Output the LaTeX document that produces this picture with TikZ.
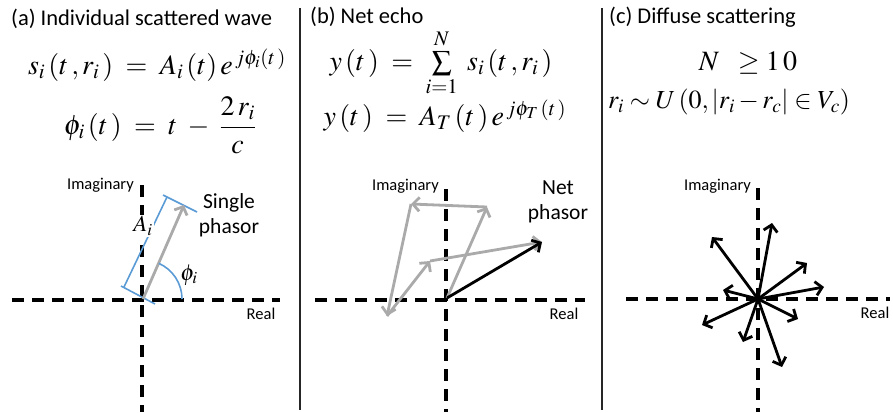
\documentclass[tikz,border=0pt]{standalone}
\usepackage{mathptmx}
\usepackage[no-math]{fontspec}
\setmainfont{Carlito}
\usetikzlibrary{arrows.meta}
\definecolor{phgray}{RGB}{170,170,170}
\definecolor{phblue}{RGB}{91,155,213}
\tikzset{
  title/.style={anchor=base west,inner sep=0pt,font=\fontsize{22.5}{26}\selectfont},
  eqn/.style={inner sep=0pt,font=\fontsize{28}{32}\selectfont},
  axlabel/.style={inner sep=0pt,font=\fontsize{16.5}{19}\selectfont},
  biglabel/.style={inner sep=0pt,align=center,font=\fontsize{21.5}{25}\selectfont},
  axis/.style={line width=3.4pt,dash pattern=on 12pt off 8pt},
  sep/.style={line width=1.6pt,black!85},
  grayarrow/.style={line width=2.8pt,phgray,-{Straight Barb[length=6.5pt,width=14pt,line width=2.8pt]}},
  blackarrow/.style={line width=2.8pt,black,-{Straight Barb[length=6.5pt,width=14pt,line width=2.8pt]}},
  bluel/.style={line width=1.6pt,phblue},
}
\begin{document}
\begin{tikzpicture}[x=1pt,y=-1pt]
\useasboundingbox (0,0) rectangle (893,412);
% separators
\coordinate (s1t) at (300,8); \coordinate (s1b) at (300,410);
\coordinate (s2t) at (602,8); \coordinate (s2b) at (602,410);
\draw[sep] (s1t) -- (s1b);
\draw[sep] (s2t) -- (s2b);
% titles
\node[title] (ta) at (11,26) {(a) Individual scattered wave};
\node[title] (tb) at (310,24) {(b) Net echo};
\node[title] (tc) at (609,24) {(c) Diffuse scattering};
% equations
\node[eqn] (ea1) at (157,65) {$s_{i}\,(t\,,r_{i}\,)\;=\;A_{i}\,(t)\,e^{\,j\phi_i(t\,)}$};
\node[eqn] (ea2) at (160,125) {$\displaystyle\phi_{i}\,(t\,)\;=\;t\;-\;\frac{2\,r_{i}}{c}$};
\node[eqn] (eb1) at (441,63) {$y\,(t\,)\;=\;\sum\limits_{i=1}^{N}\;s_{i}\,(t\,,r_{i}\,)$};
\node[eqn] (eb2) at (445,116) {$y\,(t\,)\;=\;A_{T}\,(t\,)\,e^{\,j\phi_T\,(t\,)}$};
\node[eqn] (ec1) at (748,63) {$N\;\;\geq 1\,0$};
\node[eqn,font=\fontsize{26}{30}\selectfont] (ec2) at (729,102) {$r_{i}\sim U\,(0,\left|r_{i}-r_{c}\right|\in V_{c})$};
% ---------- panel (a)
\coordinate (ahl) at (12,300); \coordinate (ahr) at (280,300);
\coordinate (avt) at (142,185); \coordinate (avb) at (142,412);
\draw[axis] (ahl) -- (ahr);
\draw[axis] (avt) -- (avb);
\node[axlabel,anchor=east] (aim) at (134,185) {Imaginary};
\node[axlabel] (are) at (261,314) {Real};
\coordinate (aO) at (143,299); \coordinate (aT) at (184,205);
\coordinate (bl1) at (124,287); \coordinate (bl2) at (167,197);
\coordinate (tk1a) at (121,286); \coordinate (tk1b) at (155,304);
\coordinate (tk2a) at (163,195); \coordinate (tk2b) at (197,212);
\draw[bluel] (bl1) -- (bl2);
\draw[bluel] (tk1a) -- (tk1b);
\draw[bluel] (tk2a) -- (tk2b);
\node[eqn,fill=white,inner sep=1pt,font=\fontsize{23}{27}\selectfont] (aA) at (143,226) {$A_{i}$};
\draw[grayarrow] (aO) -- (aT);
\coordinate (arc0) at (182,299);
\draw[bluel] (arc0) arc[start angle=0,end angle=-66,radius=39];
\node[eqn,font=\fontsize{23}{27}\selectfont] (aphi) at (189,275) {$\phi_{i}$};
\node[biglabel] (asp) at (229,215) {Single\\phasor};
% ---------- panel (b)
\coordinate (bhl) at (315,300); \coordinate (bhr) at (585,300);
\coordinate (bvt) at (446,189); \coordinate (bvb) at (446,412);
\draw[axis] (bhl) -- (bhr);
\draw[axis] (bvt) -- (bvb);
\node[axlabel,anchor=east] (bim) at (439,186) {Imaginary};
\node[axlabel] (bre) at (564,314) {Real};
\coordinate (bO) at (447,298);
\coordinate (bp1) at (487,207);
\coordinate (bp2) at (411,204);
\coordinate (bp3) at (387,316);
\coordinate (bp4) at (430,261);
\coordinate (bp5) at (542,242);
\draw[grayarrow] (bO) -- (bp1);
\draw[grayarrow] (bp1) -- (bp2);
\draw[grayarrow] (bp2) -- (bp3);
\draw[grayarrow] (bp3) -- (bp4);
\draw[grayarrow] (bp4) -- (bp5);
\draw[blackarrow] (bO) -- (bp5);
\node[biglabel] (bnp) at (558,202) {Net\\phasor};
% ---------- panel (c)
\coordinate (chl) at (626,299); \coordinate (chr) at (890,299);
\coordinate (cvt) at (758,188); \coordinate (cvb) at (758,412);
\draw[axis] (chl) -- (chr);
\draw[axis] (cvt) -- (cvb);
\node[axlabel,anchor=east] (cim) at (751,186) {Imaginary};
\node[axlabel] (cre) at (875,313) {Real};
\coordinate (cO) at (758,299);
\foreach \n/\p in {1/{712,237},2/{772,223},3/{807,263},4/{824,287},5/{723,290},6/{702,325},7/{743,342},8/{782,367},9/{798,319}}{
  \coordinate (c\n) at (\p);
  \draw[blackarrow] (cO) -- (c\n);
}
\end{tikzpicture}
\end{document}
